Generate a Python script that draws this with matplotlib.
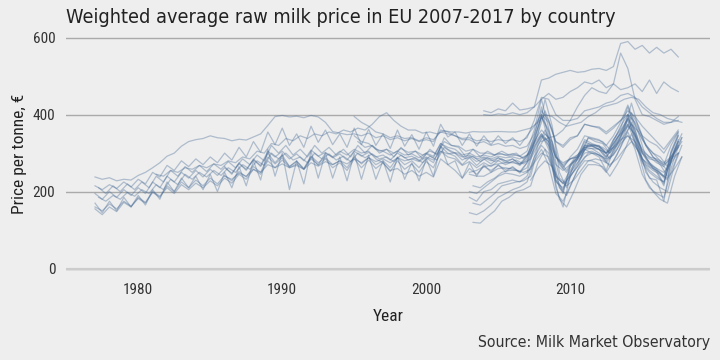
import numpy as np
import matplotlib
matplotlib.use('Agg')
import matplotlib.pyplot as plt
from matplotlib import font_manager as fm

# monthly prices sampled twice a year, EUR per tonne
# long series, from 1977
a_start = 1977.0
a_vals = [238, 232, 236, 228, 232, 230, 242, 250, 262, 275, 292, 300, 318, 330, 335, 338,
          345, 340, 338, 332, 336, 334, 342, 350, 372, 395, 398, 394, 396, 392, 398, 394,
          380, 356, 352, 348, 350, 345, 352, 340, 345, 335, 340, 332, 338, 330, 335, 330,
          360, 355, 345, 335, 335, 325, 330, 320, 325, 318, 320, 312, 318, 350, 410, 385,
          330, 320, 340, 345, 375, 370, 368, 355, 370, 385, 410, 395, 370, 350, 330, 310,
          335, 360]
b_start = 1977.0
b_vals = [170, 145, 175, 150, 185, 160, 190, 165, 205, 180, 225, 200, 235, 210, 240, 205,
          245, 200, 250, 210, 265, 215, 280, 230, 310, 240, 300, 205, 280, 220, 305, 235,
          300, 235, 290, 228, 300, 232, 295, 232, 280, 225, 290, 232, 275, 228, 285, 240,
          320, 270, 280, 235, 275, 240, 270, 250, 270, 252, 265, 248, 275, 330, 400, 330,
          210, 160, 240, 265, 310, 300, 290, 255, 310, 340, 400, 330, 280, 235, 230, 175,
          280, 330]
c_start = 1977.25
c_vals = [210, 195, 215, 200, 220, 205, 225, 210, 240, 225, 255, 240, 265, 250, 268, 252,
          272, 258, 278, 262, 285, 270, 295, 280, 320, 300, 320, 295, 310, 290, 320, 300,
          315, 295, 310, 290, 320, 300, 320, 300, 310, 290, 315, 295, 305, 285, 310, 295,
          340, 320, 315, 290, 310, 290, 305, 295, 305, 295, 300, 285, 305, 350, 440, 370,
          250, 210, 275, 290, 340, 330, 325, 300, 340, 360, 430, 365, 320, 290, 270, 240,
          310, 350]
d_start = 1977.0
d_vals = [195, 180, 200, 185, 205, 190, 210, 195, 225, 210, 240, 225, 250, 235, 255, 238,
          258, 242, 262, 248, 272, 258, 282, 268, 305, 290, 305, 285, 298, 280, 308, 292,
          302, 288, 298, 282, 305, 292, 302, 290, 295, 282, 300, 288, 292, 280, 298, 288,
          325, 310, 300, 282, 292, 278, 288, 280, 288, 280, 285, 272, 292, 345, 420, 340,
          230, 195, 265, 290, 330, 320, 310, 285, 330, 370, 400, 350, 300, 270, 250, 215,
          300, 345]
e_start = 1977.25
e_vals = [185, 175, 190, 180, 198, 188, 205, 195, 218, 205, 232, 218, 245, 232, 250, 238,
          255, 242, 262, 250, 270, 258, 280, 268, 300, 285, 300, 282, 290, 275, 300, 285,
          298, 282, 292, 278, 300, 288, 298, 285, 290, 278, 295, 282, 288, 275, 292, 282,
          315, 302, 300, 285, 292, 278, 288, 278, 285, 275, 282, 272, 285, 320, 350, 330,
          270, 250, 280, 295, 320, 318, 315, 300, 320, 345, 375, 355, 320, 300, 290, 265,
          300, 330]
f_start = 1977.0
f_vals = [160, 150, 168, 155, 175, 162, 182, 170, 198, 185, 215, 200, 225, 210, 230, 215,
          235, 220, 242, 228, 252, 238, 265, 250, 290, 272, 288, 265, 278, 260, 292, 275,
          288, 270, 280, 262, 290, 272, 288, 270, 280, 262, 288, 270, 280, 262, 288, 275,
          318, 300, 292, 270, 288, 268, 285, 272, 288, 275, 285, 270, 290, 340, 395, 355,
          240, 200, 270, 290, 335, 325, 318, 290, 335, 365, 420, 360, 305, 275, 255, 220,
          305, 350]
g_start = 1977.0
g_vals = [155, 140, 160, 148, 172, 160, 185, 172, 200, 188, 210, 195, 218, 205, 222, 210,
          228, 215, 235, 222, 245, 232, 258, 245, 280, 262, 282, 262, 272, 258, 285, 270,
          300, 290, 305, 295, 310, 300, 305, 285, 275, 255, 260, 245, 255, 240, 250, 238,
          285, 270, 255, 235, 260, 245, 265, 255, 268, 258, 262, 252, 275, 310, 345, 330,
          290, 265, 285, 295, 315, 320, 320, 300, 335, 360, 390, 360, 300, 275, 260, 235,
          300, 345]
h_start = 1977.0
h_vals = [215, 205, 218, 208, 225, 212, 232, 220, 250, 238, 268, 255, 280, 265, 285, 270,
          290, 275, 300, 282, 315, 290, 330, 302, 355, 322, 365, 320, 350, 315, 370, 328,
          360, 322, 350, 315, 365, 322, 362, 320, 350, 312, 360, 318, 348, 310, 355, 318,
          375, 342, 355, 320, 350, 318, 345, 322, 345, 325, 340, 320, 345, 370, 400, 380,
          330, 315, 335, 345, 375, 370, 365, 350, 365, 385, 400, 380, 345, 330, 320, 300,
          330, 355]

# series joining later
i_start = 1981.25
i_vals = [245, 240, 255, 250, 262, 258, 268, 262, 272, 268, 280, 275, 290, 285, 305, 300,
          325, 320, 338, 332, 345, 338, 350, 345, 355, 350, 360, 355, 365, 360, 375, 395,
          405, 385, 370, 360, 360, 352, 355, 350, 358, 355, 355, 352, 356, 355, 355, 356,
          356, 355, 355, 360, 365, 380, 400, 395, 380, 370, 375, 380, 395, 405, 420, 425,
          430, 440, 445, 440, 420, 405, 400, 390, 385, 380]
j_start = 1986.0
j_vals = [265, 245, 275, 255, 285, 265, 300, 275, 295, 265, 280, 258, 290, 268, 285, 262,
          275, 255, 285, 262, 282, 260, 275, 252, 280, 258, 272, 250, 278, 262, 305, 290,
          285, 268, 278, 262, 275, 265, 280, 270, 278, 268, 285, 335, 395, 360, 290, 270,
          285, 290, 320, 322, 318, 300, 325, 350, 375, 345, 310, 290, 285, 275, 290, 315]
k_start = 1986.0
k_vals = [240, 232, 248, 240, 258, 250, 270, 262, 272, 262, 268, 258, 275, 266, 278, 270,
          280, 272, 285, 275, 288, 278, 285, 275, 288, 280, 285, 278, 290, 282, 305, 298,
          300, 290, 295, 285, 290, 285, 292, 288, 290, 285, 295, 330, 360, 340, 290, 275,
          285, 290, 310, 312, 310, 300, 315, 335, 345, 330, 300, 285, 280, 270, 285, 300]
l_start = 1995.0
l_vals = [345, 330, 325, 310, 305, 295, 305, 295, 298, 288, 300, 292, 325, 315, 310, 295,
          300, 290, 295, 290, 300, 295, 298, 292, 305, 360, 440, 365, 290, 260, 290, 310,
          345, 340, 335, 320, 345, 380, 425, 375, 335, 310, 290, 270, 320, 355]
m_start = 1995.0
m_vals = [395, 380, 370, 355, 350, 340, 345, 338, 340, 332, 340, 335, 355, 350, 345, 338,
          340, 332, 335, 330, 335, 332, 335, 330, 340, 385, 445, 440, 400, 385, 385, 390,
          410, 415, 420, 430, 435, 450, 455, 445, 420, 405, 390, 380, 380, 395]
n_start = 1995.25
n_vals = [330, 315, 320, 305, 310, 300, 312, 302, 305, 295, 305, 298, 330, 320, 318, 305,
          310, 300, 300, 295, 298, 292, 295, 288, 300, 350, 410, 360, 280, 255, 285, 305,
          340, 335, 330, 310, 340, 370, 405, 370, 320, 290, 275, 255, 305, 340]

# new member states
o_start = 2003.0
o_vals = [185, 175, 200, 205, 220, 225, 230, 225, 240, 290, 320, 300, 230, 205, 250, 275,
          300, 305, 295, 275, 300, 340, 375, 330, 275, 250, 235, 225, 280, 320]
p_start = 2003.25
p_vals = [120, 118, 135, 150, 175, 185, 200, 205, 215, 275, 310, 260, 180, 160, 200, 245,
          270, 270, 265, 240, 270, 305, 350, 300, 230, 200, 180, 170, 240, 290]
q_start = 2003.0
q_vals = [145, 140, 150, 165, 185, 195, 205, 212, 225, 280, 310, 270, 195, 175, 215, 255,
          280, 280, 272, 250, 280, 315, 355, 310, 245, 210, 195, 185, 250, 300]
r_start = 2003.25
r_vals = [215, 210, 225, 235, 250, 255, 255, 250, 258, 320, 360, 320, 235, 220, 255, 290,
          325, 320, 310, 285, 310, 350, 395, 350, 290, 260, 250, 230, 290, 340]
s_start = 2003.0
s_vals = [245, 240, 240, 250, 260, 262, 258, 252, 262, 318, 345, 320, 240, 222, 255, 285,
          320, 318, 310, 290, 315, 355, 390, 345, 285, 265, 255, 240, 290, 335]
t_start = 2003.25
t_vals = [170, 165, 180, 195, 215, 220, 225, 228, 240, 310, 340, 300, 210, 190, 235, 275,
          300, 300, 290, 265, 295, 340, 380, 320, 250, 225, 210, 200, 270, 320]
u_start = 2003.0
u_vals = [200, 195, 210, 225, 240, 248, 245, 240, 250, 315, 350, 310, 225, 210, 245, 285,
          315, 312, 300, 280, 305, 345, 385, 340, 280, 255, 240, 225, 285, 330]
v_start = 2003.0
v_vals = [250, 255, 265, 268, 272, 275, 275, 272, 280, 325, 350, 330, 270, 255, 270, 285,
          315, 318, 310, 300, 315, 345, 370, 350, 305, 290, 275, 265, 290, 320]
w_start = 2004.0
w_vals = [400, 398, 402, 400, 405, 400, 405, 420, 490, 495, 505, 510, 515, 510, 512, 518,
          520, 515, 525, 585, 590, 570, 580, 560, 575, 560, 570, 550]
x_start = 2004.0
x_vals = [410, 405, 415, 410, 430, 412, 415, 420, 440, 455, 440, 445, 460, 470, 485, 480,
          490, 470, 480, 465, 470, 480, 460, 490, 455, 485, 470, 460]
y_start = 2008.0
y_vals = [330, 340, 345, 360, 385, 420, 450, 470, 460, 455, 480, 560, 520, 440, 400, 395,
          385, 375, 380, 385]
z_start = 2007.0
z_vals = [250, 275, 300, 290, 240, 220, 240, 265, 290, 300, 295, 285, 295, 325, 345, 320,
          285, 270, 260, 250, 275, 300]
zz_start = 2007.25
zz_vals = [230, 260, 280, 265, 230, 215, 230, 255, 280, 285, 280, 270, 285, 310, 330, 305,
           270, 255, 245, 235, 260, 290]

series = [(a_start, a_vals), (b_start, b_vals), (c_start, c_vals), (d_start, d_vals),
          (e_start, e_vals), (f_start, f_vals), (g_start, g_vals), (h_start, h_vals),
          (i_start, i_vals), (j_start, j_vals), (k_start, k_vals), (l_start, l_vals),
          (m_start, m_vals), (n_start, n_vals), (o_start, o_vals), (p_start, p_vals),
          (q_start, q_vals), (r_start, r_vals), (s_start, s_vals), (t_start, t_vals),
          (u_start, u_vals), (v_start, v_vals), (w_start, w_vals), (x_start, x_vals),
          (y_start, y_vals), (z_start, z_vals), (zz_start, zz_vals)]

x_ticks = [1980, 1990, 2000, 2010]
y_ticks = [0, 200, 400, 600]

names = {f.name for f in fm.fontManager.ttflist}
cond = 'Roboto Condensed' if 'Roboto Condensed' in names else 'DejaVu Sans'

bg = '#eeeeee'
fig = plt.figure(figsize=(7.2, 3.6), dpi=100, facecolor=bg)
ax = fig.add_axes([0.092, 0.222, 0.894, 0.70])
ax.set_facecolor(bg)

for start, vals in series:
    xs = start + 0.5 * np.arange(len(vals))
    ax.plot(xs, vals, color='#456a96', alpha=0.38, lw=0.9, zorder=3)

ax.set_xlim(1975, 2019.7)
ax.set_ylim(-30, 625)
ax.set_xticks(x_ticks)
ax.set_yticks(y_ticks)
for s in ax.spines.values():
    s.set_visible(False)
ax.tick_params(length=0, labelsize=11, colors='#333333', pad=2)
ax.yaxis.grid(True, color='#aaaaaa', lw=1, zorder=1)
ax.axhline(0, color='#cccccc', lw=1.6, zorder=2)
ax.set_axisbelow(True)
ax.tick_params(axis='y', pad=8)
for lbl in ax.get_xticklabels() + ax.get_yticklabels():
    lbl.set_fontfamily(cond)
    lbl.set_fontstretch('condensed')

ax.set_xlabel('Year', fontsize=12.5, color='#222222', family=cond, stretch='condensed', labelpad=9)
ax.set_ylabel('Price per tonne, €', fontsize=12.5, color='#222222', family=cond, stretch='condensed', labelpad=4)

fig.text(0.092, 0.952, 'Weighted average raw milk price in EU 2007-2017 by country',
         fontsize=14.2, color='#222222', ha='left', va='center', stretch='condensed')
fig.text(0.986, 0.05, 'Source: Milk Market Observatory', fontsize=11.3, color='#333333',
         ha='right', va='center', stretch='condensed')

fig.savefig('out.png', dpi=100, facecolor=bg)
